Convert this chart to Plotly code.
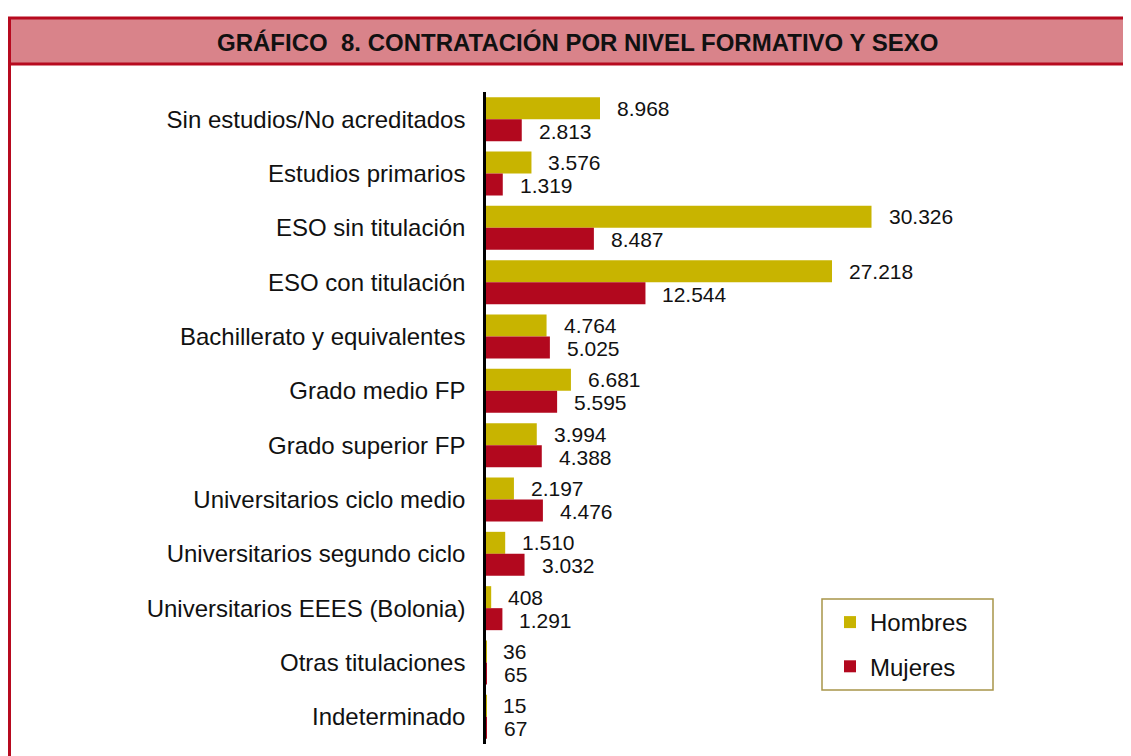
import plotly.graph_objects as go

categories = [
    "Sin estudios/No acreditados",
    "Estudios primarios",
    "ESO sin titulación",
    "ESO con titulación",
    "Bachillerato y equivalentes",
    "Grado medio FP",
    "Grado superior FP",
    "Universitarios ciclo medio",
    "Universitarios segundo ciclo",
    "Universitarios EEES (Bolonia)",
    "Otras titulaciones",
    "Indeterminado",
]
hombres = [8968, 3576, 30326, 27218, 4764, 6681, 3994, 2197, 1510, 408, 36, 15]
mujeres = [2813, 1319, 8487, 12544, 5025, 5595, 4388, 4476, 3032, 1291, 65, 67]
series_names = ["Hombres", "Mujeres"]
title_text = "GRÁFICO  8. CONTRATACIÓN POR NIVEL FORMATIVO Y SEXO"

C_H = "#C8B400"
C_M = "#B2081E"
FONT = "Liberation Sans, Arial, sans-serif"

OFF = 8  # default page body margin
W, H = 1131 - OFF, 756 - OFF
# plot area in page coordinates: x 486..1100, y 92..744
PX0, PX1, PY0, PY1 = 486, 1100, 92, 744
L = PX0 - OFF
R = W - (PX1 - OFF)
T = PY0 - OFF
B = H - (PY1 - OFF)
pw, ph = PX1 - PX0, PY1 - PY0


def px_x(x):
    return (x - PX0) / pw


def px_y(y):
    return (PY1 - y) / ph


def fmt(v):
    return f"{v:,}".replace(",", ".")


fig = go.Figure()
fig.add_trace(go.Bar(y=categories, x=hombres, name=series_names[0], orientation="h",
                     marker=dict(color=C_H, line=dict(width=0)), legendgroup="h"))
fig.add_trace(go.Bar(y=categories, x=mujeres, name=series_names[1], orientation="h",
                     marker=dict(color=C_M, line=dict(width=0)), legendgroup="m"))

annotations = []
for cat, vh, vm in zip(categories, hombres, mujeres):
    annotations.append(dict(x=vh, y=cat, xref="x", yref="y", text=fmt(vh), showarrow=False,
                            xanchor="left", yanchor="middle", xshift=15, yshift=11,
                            font=dict(family=FONT, size=21, color="#111")))
    annotations.append(dict(x=vm, y=cat, xref="x", yref="y", text=fmt(vm), showarrow=False,
                            xanchor="left", yanchor="middle", xshift=15, yshift=-12,
                            font=dict(family=FONT, size=21, color="#111")))

annotations.append(dict(x=px_x(577), y=px_y(42), xref="paper", yref="paper", text=f"<b>{title_text}</b>",
                        showarrow=False, xanchor="center", yanchor="middle",
                        font=dict(family=FONT, size=24, color="#111")))

shapes = [
    dict(type="rect", xref="paper", yref="paper", x0=px_x(9.5), x1=px_x(1145), y0=px_y(64), y1=px_y(18),
         fillcolor="#D9838A", line=dict(color="#B70A1F", width=3), layer="below"),
    dict(type="line", xref="paper", yref="paper", x0=px_x(9.5), x1=px_x(9.5), y0=px_y(18), y1=px_y(770),
         line=dict(color="#B70A1F", width=3)),
    dict(type="rect", xref="paper", yref="paper", x0=px_x(822), x1=px_x(993), y0=px_y(690), y1=px_y(599),
         line=dict(color="#A8954A", width=1.5), fillcolor="rgba(0,0,0,0)"),
]

fig.update_layout(
    width=W, height=H,
    margin=dict(l=L, r=R, t=T, b=B, pad=0),
    paper_bgcolor="white", plot_bgcolor="white",
    barmode="group", bargap=0.19, bargroupgap=0,
    font=dict(family=FONT, size=24, color="#111"),
    showlegend=True,
    legend=dict(x=px_x(830), y=px_y(600), xanchor="left", yanchor="top",
                bgcolor="rgba(0,0,0,0)", borderwidth=0, tracegroupgap=10,
                traceorder="grouped", font=dict(family=FONT, size=24, color="#111")),
    xaxis=dict(range=[0, 48300], visible=False, showgrid=False, zeroline=False),
    yaxis=dict(autorange="reversed", showgrid=False, zeroline=False, showline=True,
               linecolor="#000", linewidth=2.5, ticks="", ticklabelstandoff=13,
               tickfont=dict(family=FONT, size=24, color="#111")),
    annotations=annotations,
    shapes=shapes,
)

fig.write_html("out.html")
